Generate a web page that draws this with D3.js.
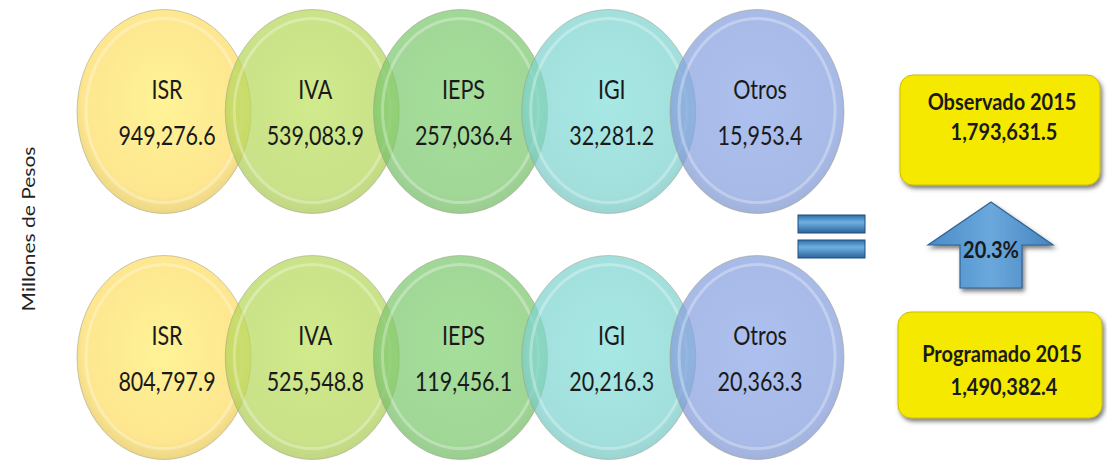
<!DOCTYPE html>
<html>
<head>
<meta charset="utf-8">
<script src="https://cdn.jsdelivr.net/npm/d3@7"></script>
<style>
  body { margin: 0; background: #fff; }
  text { font-family: Lato, "Open Sans", sans-serif; }
</style>
</head>
<body>
<script>
let categories = ["ISR", "IVA", "IEPS", "IGI", "Otros"];
let observado = [949276.6, 539083.9, 257036.4, 32281.2, 15953.4];
let programado = [804797.9, 525548.8, 119456.1, 20216.3, 20363.3];
let rows = ["Observado 2015", "Programado 2015"];
let colors = ["#fde68f", "#b5d65a", "#7cc76e", "#7ed3cf", "#869fdd"];

let w = 1107;
let h = 462;
let fmt = d3.format(",.1f");

let svg = d3.select("body").append("svg").attr("width", w).attr("height", h);
let defs = svg.append("defs");

let x = d3.scalePoint().domain(categories).range([164, 757]);
let y = d3.scalePoint().domain(rows).range([111.5, 357.5]);
let color = d3.scaleOrdinal().domain(categories).range(colors);

// glossy radial fill per tax
categories.forEach(function(c, i) {
	let g = defs.append("radialGradient").attr("id", "g" + i)
		.attr("cx", "50%").attr("cy", "45%").attr("r", "55%");
	g.append("stop").attr("offset", "0%").attr("stop-color", d3.color(color(c)).brighter(0.15));
	g.append("stop").attr("offset", "85%").attr("stop-color", color(c));
	g.append("stop").attr("offset", "100%").attr("stop-color", d3.color(color(c)).darker(0.2));
});

let sh = defs.append("filter").attr("id", "shadow").attr("x", "-10%").attr("y", "-10%").attr("width", "130%").attr("height", "140%");
sh.append("feDropShadow").attr("dx", 2).attr("dy", 3).attr("stdDeviation", 2).attr("flood-color", "#444").attr("flood-opacity", 0.7);

let bar = defs.append("linearGradient").attr("id", "bar").attr("x1", 0).attr("y1", 0).attr("x2", 0).attr("y2", 1);
bar.append("stop").attr("offset", "0%").attr("stop-color", "#2f6ea8");
bar.append("stop").attr("offset", "40%").attr("stop-color", "#6fb0e2");
bar.append("stop").attr("offset", "100%").attr("stop-color", "#2b649a");

let arrowG = defs.append("linearGradient").attr("id", "arr").attr("x1", 0).attr("y1", 0).attr("x2", 1).attr("y2", 0);
arrowG.append("stop").attr("offset", "0%").attr("stop-color", "#4b8cc8");
arrowG.append("stop").attr("offset", "50%").attr("stop-color", "#6aa8dc");
arrowG.append("stop").attr("offset", "100%").attr("stop-color", "#4785c0");

let data = [];
rows.forEach(function(r, j) {
	let vals = j == 0 ? observado : programado;
	categories.forEach(function(c, i) {
		data.push({ row: r, cat: c, i: i, value: vals[i] });
	});
});

let rx = 87, ry = 102;

let bubbles = svg.selectAll("g.bubble")
	.data(data)
	.enter()
	.append("g")
	.attr("class", "bubble")
	.attr("transform", function(d) { return "translate(" + x(d.cat) + "," + y(d.row) + ")"; });

bubbles.append("ellipse")
	.attr("rx", rx).attr("ry", ry)
	.attr("fill", function(d) { return "url(#g" + d.i + ")"; })
	.attr("fill-opacity", function(d) { return d.i == 0 ? 1 : 0.72; })
	.attr("stroke", "#9a9a80").attr("stroke-opacity", 0.5).attr("stroke-width", 1);

// inner highlight ring
bubbles.append("ellipse")
	.attr("rx", rx - 9).attr("ry", ry - 10).attr("cy", -1)
	.attr("fill", "none")
	.attr("stroke", "#fff").attr("stroke-opacity", 0.3).attr("stroke-width", 3);

bubbles.append("text")
	.attr("transform", "translate(3,-12.5) scale(1,1.28)")
	.attr("text-anchor", "middle")
	.attr("font-size", "21.5px")
	.attr("fill", "#1a1a1a")
	.text(function(d) { return d.cat; });

bubbles.append("text")
	.attr("transform", "translate(3,33) scale(1,1.28)")
	.attr("text-anchor", "middle")
	.attr("font-size", "21.5px")
	.attr("fill", "#1a1a1a")
	.text(function(d) { return fmt(d.value); });

// y label
svg.append("text")
	.attr("transform", "translate(35,229) rotate(-90) scale(1.2,1)")
	.attr("text-anchor", "middle")
	.attr("font-size", "17.5px")
	.attr("fill", "#222")
	.text("Millones de Pesos");

// equals sign
[215, 240].forEach(function(top) {
	svg.append("rect")
		.attr("x", 798).attr("y", top).attr("width", 67).attr("height", 18)
		.attr("fill", "url(#bar)").attr("stroke", "#1f4f7c").attr("stroke-width", 1);
});

// total boxes
let totals = [d3.sum(observado), d3.sum(programado)];
let boxes = [
	{ label: rows[0], value: totals[0], x: 900, y: 75, w: 200, h: 110, b1: 110, b2: 140 },
	{ label: rows[1], value: totals[1], x: 898, y: 312, w: 204, h: 106, b1: 362, b2: 395 }
];
boxes.forEach(function(b) {
	svg.append("rect")
		.attr("x", b.x).attr("y", b.y).attr("width", b.w).attr("height", b.h)
		.attr("rx", 13).attr("ry", 13)
		.attr("fill", "#f5e900").attr("stroke", "#c9bf00").attr("stroke-width", 1)
		.attr("filter", "url(#shadow)");
	svg.append("text")
		.attr("transform", "translate(" + (b.x + b.w / 2 + 2) + "," + b.b1 + ") scale(1,1.12)")
		.attr("text-anchor", "middle").attr("font-size", "20px").attr("font-weight", "bold")
		.attr("fill", "#1a1a1a")
		.text(b.label);
	svg.append("text")
		.attr("transform", "translate(" + (b.x + b.w / 2 + 4) + "," + b.b2 + ") scale(1,1.12)")
		.attr("text-anchor", "middle").attr("font-size", "20px").attr("font-weight", "bold")
		.attr("fill", "#1a1a1a")
		.text(fmt(b.value));
});

// growth arrow
let pct = (totals[0] / totals[1] - 1) * 100;
let ax = 991;
let arrow = [[ax, 202], [ax + 62, 245], [ax + 31, 245], [ax + 31, 288], [ax - 31, 288], [ax - 31, 245], [ax - 63, 245]];
svg.append("path")
	.attr("d", d3.line()(arrow) + "Z")
	.attr("fill", "url(#arr)").attr("stroke", "#2f6498").attr("stroke-width", 1.2)
	.attr("filter", "url(#shadow)");
svg.append("text")
	.attr("transform", "translate(" + ax + ",258) scale(1,1.1)")
	.attr("text-anchor", "middle").attr("font-size", "20px").attr("font-weight", "bold")
	.attr("fill", "#1a1a1a")
	.text(pct.toFixed(1) + "%");
</script>
</body>
</html>
